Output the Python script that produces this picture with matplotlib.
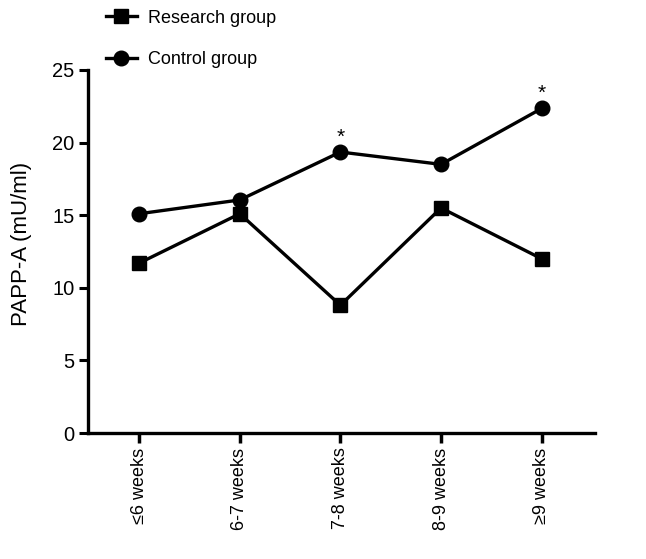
import matplotlib
matplotlib.use("Agg")
import matplotlib.pyplot as plt
from matplotlib.lines import Line2D

categories = ["≤6 weeks", "6-7 weeks", "7-8 weeks", "8-9 weeks", "≥9 weeks"]
research = [11.7, 15.1, 8.8, 15.5, 12.0]
control = [15.1, 16.05, 19.35, 18.5, 22.35]
star_idx = [2, 4]
yticks = [0, 5, 10, 15, 20, 25]

plt.rcParams['font.family'] = ['Liberation Sans', 'DejaVu Sans']

fig = plt.figure(figsize=(6.46, 5.59), dpi=100)
ax = fig.add_axes([0.136, 0.2254, 0.785, 0.6494])

x = list(range(len(categories)))
ax.plot(x, research, color='black', lw=2.4, marker='s', markersize=10.5, zorder=3)
ax.plot(x, control, color='black', lw=2.4, marker='o', markersize=10.5, zorder=3)
for i in star_idx:
    ax.annotate('*', (x[i], control[i]), xytext=(0, 4), textcoords='offset points',
                ha='center', va='bottom', fontsize=15)

ax.set_xlim(-0.51, 4.53)
ax.set_ylim(0, 25)
ax.set_yticks(yticks)
ax.set_xticks(x)
ax.set_xticklabels(categories, rotation=90, fontsize=13)
ax.tick_params(axis='y', labelsize=14.5, width=2.2, length=6.5, pad=3)
ax.tick_params(axis='x', width=2.5, length=7)
for s in ['top', 'right']:
    ax.spines[s].set_visible(False)
for s in ['left', 'bottom']:
    ax.spines[s].set_linewidth(2.4)
ax.set_ylabel('PAPP-A (mU/ml)', fontsize=16)
ax.yaxis.set_label_coords(-0.11, 0.52)

handles = [Line2D([], [], color='black', lw=2.4, marker='s', markersize=10.5),
           Line2D([], [], color='black', lw=2.4, marker='o', markersize=10.5)]
fig.legend(handles, ['Research group', 'Control group'], loc='upper left',
           bbox_to_anchor=(0.139, 1.012), frameon=False, fontsize=13,
           handlelength=1.7, labelspacing=1.35, handletextpad=0.6)

fig.savefig('out.png', dpi=100)
